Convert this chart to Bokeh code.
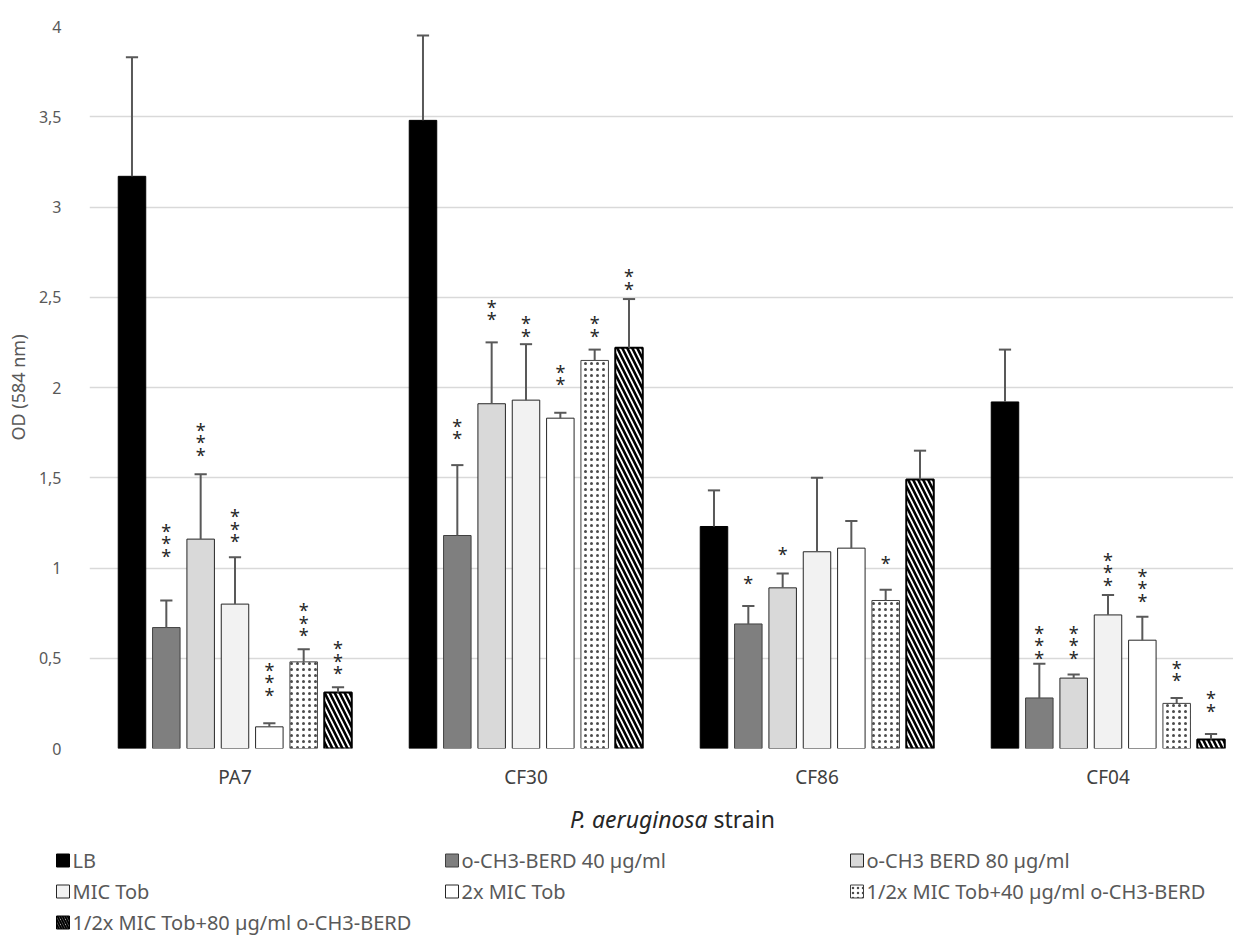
import numpy as np
from bokeh.plotting import figure
from bokeh.models import ColumnDataSource, FixedTicker, CustomJSTickFormatter, Range1d
from bokeh.layouts import column
from bokeh.embed import file_html
from bokeh.resources import INLINE
from bokeh.core.properties import value

# ---------------- data ----------------
strains = ["PA7", "CF30", "CF86", "CF04"]
treatments = ["LB", "o-CH3-BERD 40 \u00b5g/ml", "o-CH3 BERD 80 \u00b5g/ml", "MIC Tob",
              "2x MIC Tob", "1/2x MIC Tob+40 \u00b5g/ml o-CH3-BERD",
              "1/2x MIC Tob+80 \u00b5g/ml o-CH3-BERD"]

od_lb = [3.17, 3.48, 1.23, 1.92]
od_berd40 = [0.67, 1.18, 0.69, 0.28]
od_berd80 = [1.16, 1.91, 0.89, 0.39]
od_mic = [0.80, 1.93, 1.09, 0.74]
od_2mic = [0.12, 1.83, 1.11, 0.60]
od_half40 = [0.48, 2.15, 0.82, 0.25]
od_half80 = [0.31, 2.22, 1.49, 0.05]

sd_lb = [0.66, 0.47, 0.20, 0.29]
sd_berd40 = [0.15, 0.39, 0.10, 0.19]
sd_berd80 = [0.36, 0.34, 0.08, 0.02]
sd_mic = [0.26, 0.31, 0.41, 0.11]
sd_2mic = [0.02, 0.03, 0.15, 0.13]
sd_half40 = [0.07, 0.06, 0.06, 0.03]
sd_half80 = [0.03, 0.27, 0.16, 0.03]

# number of significance asterisks and the level of the lowest one
stars_lb = [0, 0, 0, 0]
stars_berd40 = [3, 2, 1, 3]
stars_berd80 = [3, 2, 1, 3]
stars_mic = [3, 2, 0, 3]
stars_2mic = [3, 2, 0, 3]
stars_half40 = [3, 2, 1, 2]
stars_half80 = [3, 2, 0, 2]

star_lvl_lb = [0, 0, 0, 0]
star_lvl_berd40 = [1.09, 1.74, 0.94, 0.525]
star_lvl_berd80 = [1.65, 2.40, 1.10, 0.525]
star_lvl_mic = [1.17, 2.31, 0, 0.93]
star_lvl_2mic = [0.32, 2.04, 0, 0.84]
star_lvl_half40 = [0.65, 2.31, 1.05, 0.40]
star_lvl_half80 = [0.44, 2.57, 0, 0.23]

y_ticks = [0, 0.5, 1, 1.5, 2, 2.5, 3, 3.5, 4]

series = [
    (od_lb, sd_lb, stars_lb, star_lvl_lb),
    (od_berd40, sd_berd40, stars_berd40, star_lvl_berd40),
    (od_berd80, sd_berd80, stars_berd80, star_lvl_berd80),
    (od_mic, sd_mic, stars_mic, star_lvl_mic),
    (od_2mic, sd_2mic, stars_2mic, star_lvl_2mic),
    (od_half40, sd_half40, stars_half40, star_lvl_half40),
    (od_half80, sd_half80, stars_half80, star_lvl_half80),
]

styles = [
    dict(fill_color="black", line_color="black", line_width=1),
    dict(fill_color="#7f7f7f", line_color="#404040", line_width=1),
    dict(fill_color="#d9d9d9", line_color="#262626", line_width=1),
    dict(fill_color="#f2f2f2", line_color="#262626", line_width=1),
    dict(fill_color="white", line_color="#262626", line_width=1),
    dict(fill_color="white", line_color="#404040", line_width=1,
         hatch_pattern="dot", hatch_color="black", hatch_scale=6, hatch_weight=1.0,
         hatch_alpha=0.7),
    dict(fill_color="white", line_color="black", line_width=2,
         hatch_pattern="left_diagonal_line", hatch_color="black", hatch_scale=10, hatch_weight=2.6),
]

FONT = "Noto Sans"
W = 1233
PX_PER_CAT = 291.0
LEFT = 89
TOPB = 26
FRAME_W = W - LEFT
FRAME_H = 722
PX_PER_UNIT = FRAME_H / 4.0
pitch = 0.118
bar_w = 0.0945
cap_half = 0.021
star_step = 12.5 / PX_PER_UNIT

P_H = 795
p = figure(width=W, height=P_H,
           x_range=Range1d(-0.5, -0.5 + FRAME_W / PX_PER_CAT), y_range=Range1d(0, 4),
           output_backend="svg", toolbar_location=None,
           min_border_left=LEFT, min_border_right=0, min_border_top=TOPB,
           min_border_bottom=P_H - TOPB - FRAME_H)
p.frame_align = False
p.background_fill_color = "white"
p.border_fill_color = "white"
p.outline_line_color = None
p.xgrid.grid_line_color = None
p.ygrid.grid_line_color = "#d9d9d9"
p.ygrid.grid_line_width = 1.5

base = np.arange(len(strains), dtype=float)
for i, ((od, sd, nst, lvl), st) in enumerate(zip(series, styles)):
    xs = base + (i - 3) * pitch
    od = np.array(od, dtype=float)
    sd = np.array(sd, dtype=float)
    src = ColumnDataSource(dict(x=xs, top=od, err=od + sd,
                                cx0=xs - cap_half, cx1=xs + cap_half))
    p.vbar(x="x", top="top", bottom=0, width=bar_w, source=src, **st)
    p.segment(x0="x", y0="top", x1="x", y1="err", source=src,
              line_color="#595959", line_width=2)
    p.segment(x0="cx0", y0="err", x1="cx1", y1="err", source=src,
              line_color="#595959", line_width=2)
    sx, sy = [], []
    for j in range(len(strains)):
        for k in range(nst[j]):
            sx.append(xs[j])
            sy.append(lvl[j] + k * star_step)
    if sx:
        p.text(x=sx, y=sy, text=["*"] * len(sx), text_align="center",
               text_baseline="middle", text_font=value(FONT), text_font_size="18px",
               text_color="#262626", y_offset=4)

p.yaxis.ticker = FixedTicker(ticks=y_ticks)
p.yaxis.formatter = CustomJSTickFormatter(code="return tick.toString().replace('.', ',');")
p.yaxis.axis_line_color = None
p.yaxis.major_tick_line_color = None
p.yaxis.minor_tick_line_color = None
p.yaxis.major_label_text_font = FONT
p.yaxis.major_label_text_font_size = "16px"
p.yaxis.major_label_text_color = "#595959"
p.yaxis.major_label_standoff = 22
p.yaxis.axis_label = "OD (584 nm)"
p.yaxis.axis_label_text_font = FONT
p.yaxis.axis_label_text_font_style = "normal"
p.yaxis.axis_label_text_font_size = "18px"
p.yaxis.axis_label_text_color = "#595959"
p.yaxis.axis_label_standoff = 6

p.xaxis.ticker = FixedTicker(ticks=list(range(len(strains))))
p.xaxis.formatter = CustomJSTickFormatter(args=dict(names=strains),
                                          code="return names[Math.round(tick)];")
p.xaxis.axis_line_color = None
p.xaxis.major_tick_line_color = None
p.xaxis.minor_tick_line_color = None
p.xaxis.major_label_text_font = FONT
p.xaxis.major_label_text_font_size = "19px"
p.xaxis.major_label_text_color = "#404040"
p.xaxis.major_label_standoff = 9

# ------------- lower panel: x title + legend (pixel coordinates) -------------
TOP = P_H
BOT = 950
lg = figure(width=W, height=BOT - TOP, x_range=Range1d(0, W), y_range=Range1d(BOT, TOP),
            x_axis_type=None, y_axis_type=None,
            output_backend="svg", toolbar_location=None,
            min_border_left=0, min_border_right=0, min_border_top=0, min_border_bottom=0)
lg.frame_align = False
lg.grid.visible = False
lg.outline_line_color = None
lg.background_fill_color = "white"
lg.border_fill_color = "white"

title_y = 818
split_x = 707
lg.text(x=[split_x], y=[title_y], text=["P. aeruginosa"], text_align="right", text_baseline="middle",
        text_font=value(FONT), text_font_style="italic", text_font_size="23px", text_color="#262626")
lg.text(x=[split_x + 6], y=[title_y], text=["strain"], text_align="left", text_baseline="middle",
        text_font=value(FONT), text_font_size="23px", text_color="#262626")

col_x = [56, 445, 850]
row_y = [860, 891, 922]
sq = 13
for i, (name, st) in enumerate(zip(treatments, styles)):
    cx = col_x[i % 3]
    cy = row_y[i // 3]
    s = dict(st)
    s["line_width"] = 1
    if "hatch_scale" in s:
        s["hatch_scale"] = min(s["hatch_scale"], 5)
        s["hatch_weight"] = min(s["hatch_weight"], 2)
    lg.quad(left=[cx], right=[cx + sq], top=[cy - sq / 2], bottom=[cy + sq / 2], **s)
    lg.text(x=[cx + sq + 3], y=[cy], text=[name], text_align="left", text_baseline="middle",
            text_font=value(FONT), text_font_size="20px", text_color="#595959")

layout = column(p, lg, spacing=0)
open("out.html", "w").write(file_html(layout, INLINE))
